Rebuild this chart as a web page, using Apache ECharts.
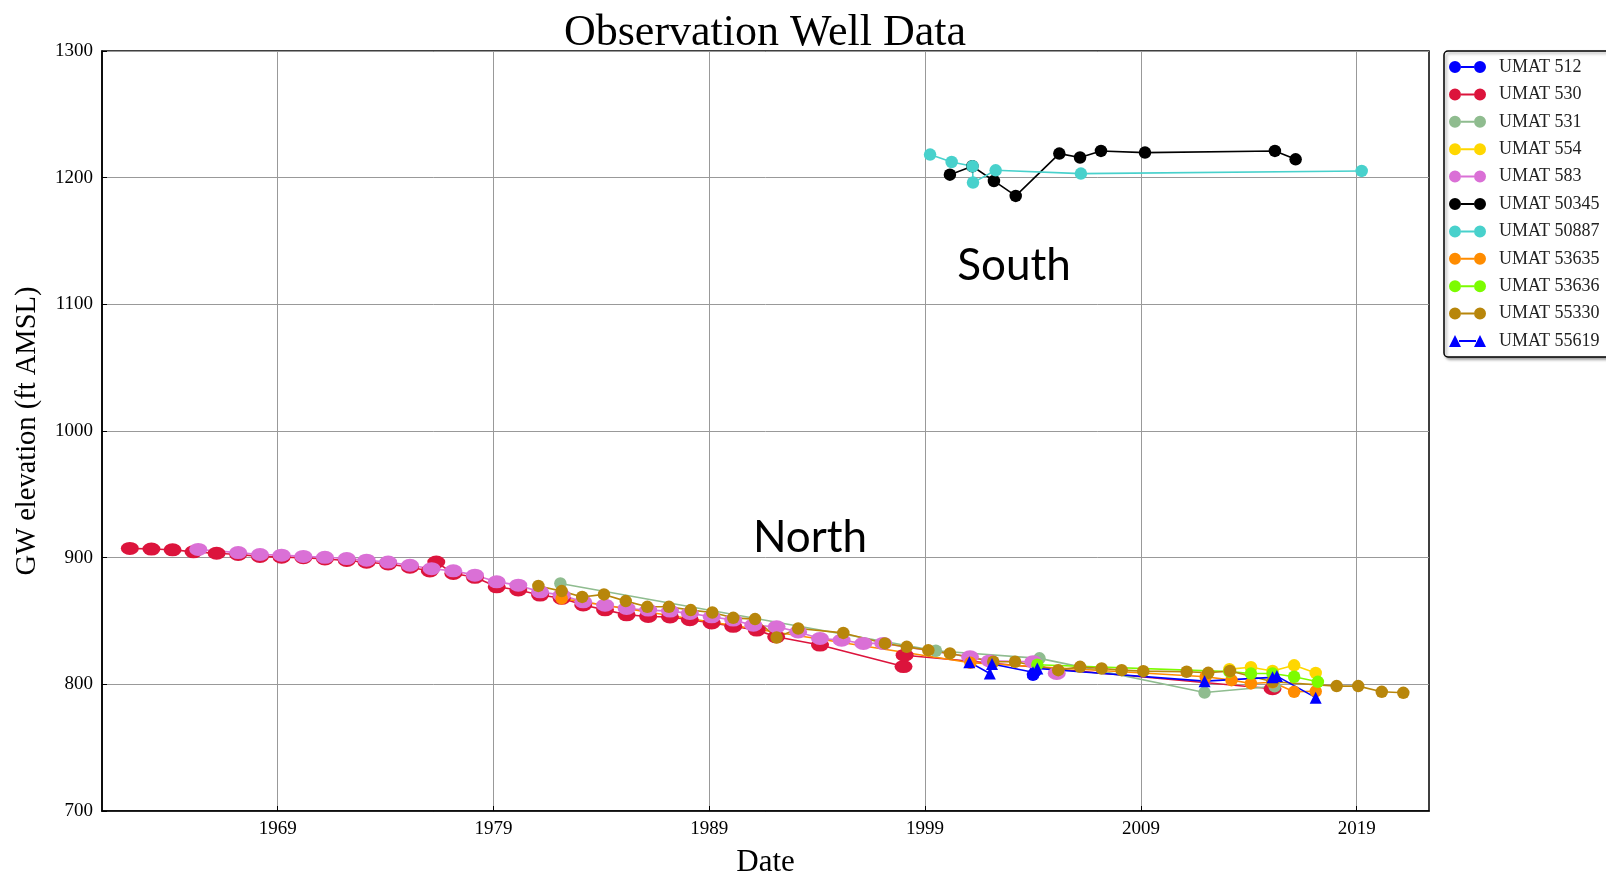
<!DOCTYPE html>
<html>
<head>
<meta charset="utf-8">
<script src="https://cdn.jsdelivr.net/npm/echarts@6/dist/echarts.min.js"></script>
<style>
  html, body { margin: 0; padding: 0; background: #fff; }
  #chart { width: 1606px; height: 876px; }
</style>
</head>
<body>
<div id="chart"></div>
<script>
// year ticks shown on the date axis
const xTicks = [1969, 1979, 1989, 1999, 2009, 2019]

// dates are decimal years, values are GW elevation (ft AMSL)
const umat512Dates = [2004.0, 2004.1]
const umat512Values = [807.5, 810]

const umat530Dates = [1962.15, 1963.15, 1964.13, 1965.1, 1966.17, 1967.17, 1968.18, 1969.18, 1970.19, 1971.19,
  1972.2, 1973.12, 1974.12, 1975.13, 1976.05, 1976.35, 1977.14, 1978.14, 1979.15, 1980.15,
  1981.16, 1982.16, 1983.16, 1984.17, 1985.17, 1986.17, 1987.18, 1988.1, 1989.11, 1990.11,
  1991.2, 1992.1, 1994.13, 1998.0, 1998.05, 2015.1]
const umat530Values = [907.3, 906.8, 906.2, 904.6, 903.5, 902.5, 901, 900.4, 900, 899,
  897.8, 896.4, 895, 892.5, 889.5, 896.5, 887.5, 884.5, 877, 874.5,
  870.5, 867.9, 862.7, 858.8, 854.9, 853.6, 853.2, 851, 848.4, 845.8,
  842.8, 837.5, 831, 814, 823, 796.5]

const umat531Dates = [1982.1, 1999.5, 2004.3, 2011.95, 2015.2]
const umat531Values = [879.6, 826.5, 820.5, 793.5, 798.5]

const umat554Dates = [2013.1, 2014.1, 2015.1, 2016.1, 2017.1]
const umat554Values = [812, 813.5, 810.5, 815, 809]

const umat583Dates = [1965.32, 1967.17, 1968.18, 1969.18, 1970.19, 1971.19, 1972.2, 1973.12, 1974.12, 1975.13,
  1976.13, 1977.14, 1978.14, 1979.15, 1980.15, 1981.16, 1982.16, 1983.16, 1984.17, 1985.17,
  1986.17, 1987.18, 1988.1, 1989.11, 1990.11, 1991.04, 1992.12, 1993.12, 1994.13, 1995.13,
  1996.14, 1997.06, 2001.08, 2002.0, 2004.01, 2005.1]
const umat583Values = [906.5, 904, 902.5, 902, 901, 900.3, 899.3, 898, 896.5, 894,
  891.3, 889.6, 886.2, 880.9, 878.3, 873, 870.4, 865.1, 862.5, 859.9,
  858.6, 857.8, 856, 853.3, 850.7, 846.7, 845.4, 841.4, 836.2, 834.9,
  832.3, 832.3, 821.7, 818.5, 817.8, 808.6]

const umat50345Dates = [2000.15, 2001.19, 2002.19, 2003.2, 2005.22, 2006.18, 2007.15, 2009.19, 2015.21, 2016.17]
const umat50345Values = [1202.4, 1209, 1197.4, 1185.6, 1219, 1215.9, 1221.1, 1219.8, 1221.1, 1214.5]

const umat50887Dates = [1999.23, 2000.23, 2001.2, 2001.22, 2002.27, 2006.22, 2019.23]
const umat50887Values = [1218.2, 1212.4, 1209, 1196.1, 1205.8, 1203.2, 1205.3]

const umat53635Dates = [1982.16, 2001.1, 2012.0, 2013.2, 2014.1, 2015.1, 2016.1, 2017.1]
const umat53635Values = [867.8, 817, 806, 803.3, 800.7, 801.6, 794.1, 794.5]

const umat53636Dates = [2004.2, 2013.1, 2014.1, 2015.1, 2016.1, 2017.2]
const umat53636Values = [815.5, 810, 808.5, 808.5, 806, 802]

const umat55330Dates = [1981.08, 1982.16, 1983.11, 1984.12, 1985.13, 1986.13, 1987.13, 1988.14, 1989.14, 1990.11,
  1991.12, 1992.12, 1993.12, 1995.21, 1997.14, 1998.15, 1999.15, 2000.15, 2002.16, 2003.17,
  2005.17, 2006.18, 2007.18, 2008.11, 2009.11, 2011.12, 2012.12, 2013.13, 2015.1, 2018.07,
  2019.07, 2020.16, 2021.16]
const umat55330Values = [877.7, 873.6, 869, 871, 865.7, 861.2, 861.2, 858.6, 856.7, 852.5,
  851.5, 837, 844.1, 840.6, 832.3, 829.6, 827, 824.4, 817.8, 817.8,
  811.2, 813.8, 812.5, 811.2, 810.4, 809.9, 809.1, 810.5, 802, 798.6,
  798.6, 794.1, 793.3]

const umat55619Dates = [2001.05, 2002.0, 2002.1, 2004.0, 2004.2, 2011.95, 2015.1, 2015.3, 2017.1]
const umat55619Values = [817.5, 808.5, 816, 809.5, 812.5, 802.5, 805.5, 806.5, 789.5]

const chart = echarts.init(document.getElementById('chart'), null, { renderer: 'canvas' })

const serif = 'Liberation Serif'

// legend icons: two markers joined by a line, like the matplotlib legend
const dotIcon = 'path://M0,6a6,6 0 1,0 12,0a6,6 0 1,0 -12,0z M25,6a6,6 0 1,0 12,0a6,6 0 1,0 -12,0z M12,5 L25,5 L25,7 L12,7 Z'
const triIcon = 'path://M0,12 L6,0 L12,12 Z M25,12 L31,0 L37,12 Z M10,5 L27,5 L27,7 L10,7 Z'

function makeSeries(name, dates, values, color, opts = {}) {
  return {
    name,
    type: 'line',
    data: dates.map((d, i) => [d, values[i]]),
    symbol: opts.symbol || 'circle',
    symbolSize: opts.size || 12.5,
    showSymbol: true,
    itemStyle: { color },
    lineStyle: { color, width: 1.6 },
    emphasis: { disabled: true },
    z: 2
  }
}

const series = [
  makeSeries('UMAT 512', umat512Dates, umat512Values, '#0000FF'),
  makeSeries('UMAT 530', umat530Dates, umat530Values, '#DC143C', { size: [18, 13] }),
  makeSeries('UMAT 531', umat531Dates, umat531Values, '#8FBC8F'),
  makeSeries('UMAT 554', umat554Dates, umat554Values, '#FFD700'),
  makeSeries('UMAT 583', umat583Dates, umat583Values, '#DA70D6', { size: [18, 13] }),
  makeSeries('UMAT 50345', umat50345Dates, umat50345Values, '#000000'),
  makeSeries('UMAT 50887', umat50887Dates, umat50887Values, '#48D1CC'),
  makeSeries('UMAT 53635', umat53635Dates, umat53635Values, '#FF8C00'),
  makeSeries('UMAT 53636', umat53636Dates, umat53636Values, '#7CFC00'),
  makeSeries('UMAT 55330', umat55330Dates, umat55330Values, '#B8860B'),
  makeSeries('UMAT 55619', umat55619Dates, umat55619Values, '#0000FF', { symbol: 'triangle', size: 12 })
]

const option = {
  animation: false,
  backgroundColor: '#ffffff',
  grid: {
    left: 102,
    right: 177,
    top: 51,
    bottom: 65,
    containLabel: false,
    outerBoundsMode: 'none',
    show: true,
    borderColor: '#000',
    borderWidth: 1.5
  },
  xAxis: {
    type: 'value',
    min: 1960.86,
    max: 2022.35,
    name: 'Date',
    nameLocation: 'middle',
    nameGap: 36,
    nameTextStyle: { fontFamily: serif, fontSize: 31, color: '#000' },
    axisLine: { lineStyle: { color: '#000', width: 1.5 } },
    axisTick: { show: true, inside: true, length: 5, customValues: xTicks, lineStyle: { color: '#000' } },
    axisLabel: {
      customValues: xTicks,
      fontFamily: serif,
      fontSize: 19,
      color: '#000',
      margin: 9,
      formatter: v => String(Math.round(v))
    },
    splitLine: { show: true, lineStyle: { color: '#999', width: 1 } }
  },
  yAxis: {
    type: 'value',
    min: 700,
    max: 1300,
    interval: 100,
    name: 'GW elevation (ft AMSL)',
    nameLocation: 'middle',
    nameGap: 60,
    nameTextStyle: { fontFamily: serif, fontSize: 28.5, color: '#000' },
    axisLine: { show: true, lineStyle: { color: '#000', width: 1.5 } },
    axisTick: { show: true, inside: true, length: 5, lineStyle: { color: '#000' } },
    axisLabel: { fontFamily: serif, fontSize: 19, color: '#000', margin: 9, formatter: v => String(v) },
    splitLine: { show: true, lineStyle: { color: '#999', width: 1 } }
  },
  legend: {
    orient: 'vertical',
    left: 1444,
    top: 51,
    itemWidth: 37,
    itemHeight: 12,
    itemGap: 9.4,
    padding: [7, 30, 7, 5],
    borderColor: '#000',
    borderWidth: 1.5,
    borderRadius: 4,
    shadowColor: 'rgba(0,0,0,0.35)',
    shadowBlur: 3,
    shadowOffsetX: 2,
    shadowOffsetY: 2,
    backgroundColor: '#fff',
    textStyle: { fontFamily: serif, fontSize: 18, color: '#222', padding: [0, 0, 0, 8] },
    data: series.map(s => ({
      name: s.name,
      icon: s.symbol === 'triangle' ? triIcon : dotIcon
    }))
  },
  graphic: [
    {
      type: 'text',
      x: 765,
      y: 33,
      style: {
        text: 'Observation Well Data',
        fontFamily: serif,
        fontSize: 44,
        fill: '#000',
        textAlign: 'center',
        textVerticalAlign: 'middle'
      }
    },
    {
      type: 'text',
      x: 1014,
      y: 266,
      style: { text: 'South', fontFamily: 'Lato', fontSize: 44, fill: '#000', textAlign: 'center', textVerticalAlign: 'middle' }
    },
    {
      type: 'text',
      x: 810,
      y: 538,
      style: { text: 'North', fontFamily: 'Lato', fontSize: 44, fill: '#000', textAlign: 'center', textVerticalAlign: 'middle' }
    }
  ],
  series
}

chart.setOption(option)

window.addEventListener('resize', () => chart.resize())
</script>
</body>
</html>
